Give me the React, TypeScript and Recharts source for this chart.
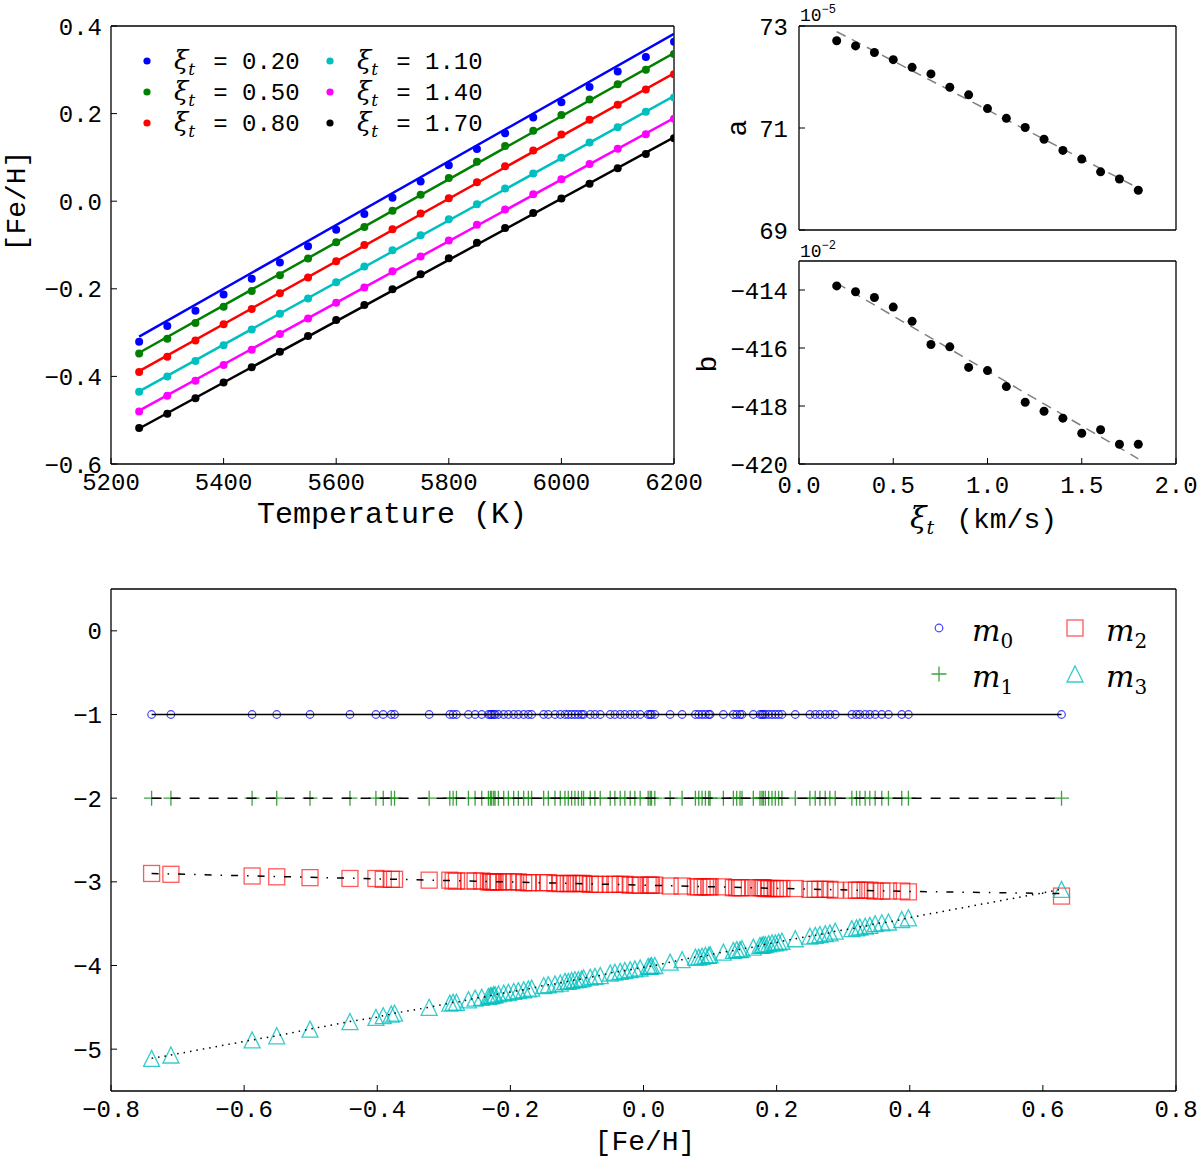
import React from 'react';
import { ScatterChart, Scatter, XAxis, YAxis } from 'recharts';

const MONO = '"Liberation Mono", "DejaVu Sans Mono", monospace';
const SERIF = '"DejaVu Serif", "Liberation Serif", serif';

// ---------- top left: [Fe/H] against Teff for six microturbulences
const TEMPS = [5250, 5300, 5350, 5400, 5450, 5500, 5550, 5600, 5650, 5700, 5750, 5800, 5850, 5900, 5950, 6000, 6050, 6100, 6150, 6200];
const FEH_XI020 = [-0.321, -0.285, -0.25, -0.213, -0.177, -0.14, -0.103, -0.065, -0.029, 0.008, 0.045, 0.082, 0.119, 0.155, 0.191, 0.226, 0.261, 0.296, 0.329, 0.364];
const FEH_XI050 = [-0.348, -0.314, -0.278, -0.241, -0.205, -0.169, -0.131, -0.094, -0.059, -0.022, 0.015, 0.053, 0.09, 0.126, 0.161, 0.197, 0.232, 0.267, 0.3, 0.336];
const FEH_XI080 = [-0.39, -0.355, -0.318, -0.281, -0.246, -0.21, -0.174, -0.137, -0.1, -0.064, -0.028, 0.007, 0.043, 0.08, 0.116, 0.152, 0.186, 0.22, 0.255, 0.29];
const FEH_XI110 = [-0.435, -0.4, -0.365, -0.329, -0.293, -0.257, -0.222, -0.185, -0.149, -0.112, -0.078, -0.041, -0.007, 0.029, 0.063, 0.099, 0.134, 0.169, 0.204, 0.237];
const FEH_XI140 = [-0.48, -0.444, -0.41, -0.374, -0.339, -0.303, -0.268, -0.232, -0.197, -0.16, -0.126, -0.09, -0.054, -0.019, 0.016, 0.05, 0.085, 0.12, 0.153, 0.188];
const FEH_XI170 = [-0.518, -0.485, -0.45, -0.414, -0.379, -0.344, -0.308, -0.271, -0.237, -0.201, -0.167, -0.13, -0.095, -0.061, -0.027, 0.006, 0.04, 0.075, 0.108, 0.144];
// straight fits, value at first and last temperature
const FIT_TEMPS = [5250, 6200];
const FIT_XI020 = [-0.309, 0.382];
const FIT_XI050 = [-0.346, 0.338];
const FIT_XI080 = [-0.388, 0.292];
const FIT_XI110 = [-0.434, 0.24];
const FIT_XI140 = [-0.478, 0.19];
const FIT_XI170 = [-0.519, 0.146];
const TEMP_TICKS = [5200, 5400, 5600, 5800, 6000, 6200];
const FEH_TICKS = [-0.6, -0.4, -0.2, 0, 0.2, 0.4];

// ---------- top right: fit coefficients against xi_t
const XI = [0.2, 0.3, 0.4, 0.5, 0.6, 0.7, 0.8, 0.9, 1.0, 1.1, 1.2, 1.3, 1.4, 1.5, 1.6, 1.7, 1.8];
const A_COEF = [72.71, 72.61, 72.48, 72.34, 72.19, 72.06, 71.8, 71.65, 71.38, 71.19, 71.01, 70.78, 70.56, 70.39, 70.14, 70.0, 69.78]; // x 1e-5
const B_COEF = [-413.86, -414.06, -414.26, -414.59, -415.08, -415.88, -415.96, -416.67, -416.78, -417.33, -417.87, -418.18, -418.42, -418.94, -418.82, -419.32, -419.32]; // x 1e-2
const XI_FIT = [0.2, 1.8];
const A_FIT = [72.89, 69.82];
const B_FIT = [-413.76, -419.82];
const XI_TICKS = [0, 0.5, 1, 1.5, 2];
const A_TICKS = [69, 71, 73];
const B_TICKS = [-420, -418, -416, -414];

// ---------- bottom: model terms against [Fe/H] of the sample
const STAR_FEH = [
  -0.739, -0.71, -0.588, -0.551, -0.501, -0.441, -0.402, -0.391, -0.379, -0.374, -0.322, -0.291, -0.286, -0.281,
  -0.263, -0.253, -0.243, -0.233, -0.23, -0.228, -0.225, -0.223, -0.218, -0.21, -0.203, -0.195, -0.188, -0.18,
  -0.173, -0.168, -0.15, -0.143, -0.133, -0.125, -0.118, -0.113, -0.108, -0.103, -0.098, -0.093, -0.09, -0.08,
  -0.073, -0.065, -0.05, -0.043, -0.035, -0.028, -0.02, -0.013, -0.005, 0.007, 0.01, 0.012, 0.017, 0.04, 0.058,
  0.078, 0.083, 0.088, 0.093, 0.098, 0.1, 0.12, 0.135, 0.14, 0.145, 0.148, 0.165, 0.175, 0.178, 0.18, 0.183,
  0.188, 0.193, 0.198, 0.203, 0.208, 0.228, 0.25, 0.258, 0.265, 0.273, 0.28, 0.288, 0.313, 0.32, 0.325, 0.333,
  0.34, 0.348, 0.358, 0.368, 0.388, 0.398, 0.628,
];
const M0_LEVEL = -1;
const M1_LEVEL = -2;
const M2_VALUES = [
  -2.9, -2.91, -2.93, -2.94, -2.95, -2.96, -2.96, -2.97, -2.97, -2.97, -2.98, -2.98, -2.99, -2.99,
  -2.99, -2.99, -2.99, -3.0, -3.0, -3.0, -3.0, -3.0, -3.0, -3.0, -3.0, -3.0, -3.0, -3.01,
  -3.01, -3.01, -3.01, -3.01, -3.02, -3.02, -3.02, -3.02, -3.02, -3.02, -3.02, -3.02, -3.02, -3.03,
  -3.03, -3.03, -3.03, -3.03, -3.03, -3.03, -3.04, -3.04, -3.04, -3.04, -3.04, -3.04, -3.04, -3.05, -3.05,
  -3.06, -3.06, -3.06, -3.06, -3.06, -3.06, -3.06, -3.07, -3.07, -3.07, -3.07, -3.07, -3.07, -3.07, -3.07, -3.08,
  -3.08, -3.08, -3.08, -3.08, -3.08, -3.08, -3.09, -3.09, -3.09, -3.09, -3.09, -3.1, -3.1, -3.1, -3.1, -3.1,
  -3.1, -3.11, -3.11, -3.11, -3.11, -3.12, -3.17,
];
const M3_VALUES = [
  -5.11, -5.07, -4.89, -4.84, -4.76, -4.67, -4.62, -4.6, -4.58, -4.57, -4.5, -4.45, -4.44, -4.44,
  -4.41, -4.39, -4.38, -4.37, -4.36, -4.36, -4.35, -4.35, -4.34, -4.33, -4.32, -4.31, -4.3, -4.29,
  -4.28, -4.27, -4.24, -4.23, -4.22, -4.21, -4.19, -4.19, -4.18, -4.17, -4.17, -4.16, -4.15, -4.14,
  -4.13, -4.12, -4.09, -4.08, -4.07, -4.06, -4.05, -4.04, -4.03, -4.01, -4.01, -4.0, -4.0, -3.96, -3.93,
  -3.9, -3.9, -3.89, -3.88, -3.88, -3.87, -3.84, -3.82, -3.81, -3.81, -3.8, -3.78, -3.76, -3.76, -3.75, -3.75,
  -3.74, -3.73, -3.73, -3.72, -3.71, -3.68, -3.65, -3.64, -3.63, -3.62, -3.61, -3.59, -3.56, -3.55, -3.54, -3.53,
  -3.52, -3.5, -3.49, -3.48, -3.45, -3.43, -3.09,
];
const LEVEL_SPAN = [-0.739, 0.628];
const M2_LINE_FEH = [-0.739, -0.4, 0, 0.398, 0.628];
const M2_LINE = [-2.9, -2.965, -3.04, -3.115, -3.14];
const BOT_X_TICKS = [-0.8, -0.6, -0.4, -0.2, 0, 0.2, 0.4, 0.6, 0.8];
const BOT_Y_TICKS = [-5, -4, -3, -2, -1, 0];

const XI_SERIES = [
  { label: '0.20', color: '#0000ff', values: FEH_XI020, fit: FIT_XI020 },
  { label: '0.50', color: '#008000', values: FEH_XI050, fit: FIT_XI050 },
  { label: '0.80', color: '#ff0000', values: FEH_XI080, fit: FIT_XI080 },
  { label: '1.10', color: '#00bfbf', values: FEH_XI110, fit: FIT_XI110 },
  { label: '1.40', color: '#ff00ff', values: FEH_XI140, fit: FIT_XI140 },
  { label: '1.70', color: '#000000', values: FEH_XI170, fit: FIT_XI170 },
];

const pts = (xs: number[], ys: number[]) => xs.map((x, i) => ({ x, y: ys[i] }));
const flat = (xs: number[], level: number) => xs.map((x) => ({ x, y: level }));

const minus = (s: string) => s.replace('-', '\u2212');
const fmt1 = (v: number) => minus(v.toFixed(1));
const fmt0 = (v: number) => minus(String(Math.round(v)));

// marker shapes
const noMark = () => <g />;
const dot = (r: number, fill: string) => (p: any) => <circle cx={p.cx} cy={p.cy} r={r} fill={fill} />;
const ring = (p: any) => (
  <circle cx={p.cx} cy={p.cy} r={3.8} fill="none" stroke="#0000ff" strokeOpacity={0.75} strokeWidth={1.2} />
);
const plus = (p: any) => (
  <path d={`M${p.cx - 7.5},${p.cy}h15M${p.cx},${p.cy - 7.5}v15`} fill="none" stroke="#008000" strokeOpacity={0.75} strokeWidth={1.3} />
);
const square = (p: any) => (
  <rect x={p.cx - 8} y={p.cy - 8} width={16} height={16} fill="none" stroke="#ff0000" strokeOpacity={0.65} strokeWidth={1.3} />
);
const triangle = (p: any) => (
  <path d={`M${p.cx},${p.cy - 8}L${p.cx + 8},${p.cy + 8}L${p.cx - 8},${p.cy + 8}Z`} fill="none" stroke="#00bfbf" strokeOpacity={0.8} strokeWidth={1.3} />
);

const AXIS_LINE = { stroke: '#000', strokeWidth: 1.3 };
const TICK_LINE = { stroke: '#000', strokeWidth: 1 };
const TICK_FONT = { fontFamily: MONO, fontSize: 24, fill: '#000' };

// box with inward ticks on all four sides, like matplotlib
function frameAxes(o: any) {
  return [
    <XAxis key="xb" xAxisId={0} type="number" dataKey="x" domain={o.xDomain} ticks={o.xTicks} allowDataOverflow interval={0}
      height={o.xHeight} tickSize={-6} tickMargin={o.xMargin || 0} tick={o.xFmt ? TICK_FONT : false} tickFormatter={o.xFmt}
      axisLine={AXIS_LINE} tickLine={TICK_LINE} />,
    <XAxis key="xt" xAxisId="top" orientation="top" type="number" dataKey="x" domain={o.xDomain} ticks={o.xTicks} allowDataOverflow
      interval={0} height={1} tickSize={-6} tick={false} axisLine={AXIS_LINE} tickLine={TICK_LINE} />,
    <YAxis key="yl" yAxisId={0} type="number" dataKey="y" domain={o.yDomain} ticks={o.yTicks} allowDataOverflow interval={0}
      width={o.yWidth} tickSize={-6} tickMargin={o.yMargin} tick={TICK_FONT} tickFormatter={o.yFmt}
      axisLine={AXIS_LINE} tickLine={TICK_LINE} />,
    <YAxis key="yr" yAxisId="right" orientation="right" type="number" dataKey="y" domain={o.yDomain} ticks={o.yTicks} allowDataOverflow
      interval={0} width={1} tickSize={-6} tick={false} axisLine={AXIS_LINE} tickLine={TICK_LINE} />,
  ];
}

const Overlay = ({ w, h, children }: { w: number; h: number; children: React.ReactNode }) => (
  <svg width={w} height={h} style={{ position: 'absolute', left: 0, top: 0, pointerEvents: 'none', overflow: 'visible' }}>
    {children}
  </svg>
);

const XiText = ({ x, y, size, sub, rest, gap }: any) => (
  <text x={x} y={y} fill="#000">
    <tspan fontFamily={SERIF} fontStyle="italic" fontSize={size}>ξ</tspan>
    <tspan fontFamily={SERIF} fontStyle="italic" fontSize={sub} dy={6}>t</tspan>
    <tspan fontFamily={MONO} fontSize={size - 2} dy={-6} dx={gap}>{rest}</tspan>
  </text>
);

const MText = ({ x, y, idx }: any) => (
  <text x={x} y={y} fill="#000" fontFamily={SERIF}>
    <tspan fontStyle="italic" fontSize={30}>m</tspan>
    <tspan fontSize={20} dy={7}>{idx}</tspan>
  </text>
);

const TempPanel = () => (
  <div style={{ position: 'absolute', left: 0, top: 0, width: 720, height: 540 }}>
    <ScatterChart width={720} height={540} margin={{ top: 25, right: 45, bottom: 26, left: 31 }}>
      {frameAxes({
        xDomain: [5200, 6200], xTicks: TEMP_TICKS, xFmt: fmt0, xHeight: 50, xMargin: 15,
        yDomain: [-0.6, 0.4], yTicks: FEH_TICKS, yFmt: fmt1, yWidth: 80, yMargin: 15,
      })}
      {XI_SERIES.map((s) => (
        <Scatter key={'fit' + s.label} data={pts(FIT_TEMPS, s.fit)} shape={noMark}
          line={{ stroke: s.color, strokeWidth: 2.5 }} isAnimationActive={false} />
      ))}
      {XI_SERIES.map((s) => (
        <Scatter key={'pts' + s.label} data={pts(TEMPS, s.values)} shape={dot(4, s.color)} isAnimationActive={false} />
      ))}
    </ScatterChart>
    <Overlay w={720} h={540}>
      {XI_SERIES.map((s, i) => {
        const cx = i < 3 ? 147 : 330;
        const cy = 61 + (i % 3) * 31;
        return (
          <g key={s.label}>
            <circle cx={cx} cy={cy} r={3.6} fill={s.color} />
            <XiText x={cx + 27} y={cy + 8} size={26} sub={17} gap={18} rest={'= ' + s.label} />
          </g>
        );
      })}
      <text x={392} y={523} textAnchor="middle" fontFamily={MONO} fontSize={30} fill="#000">Temperature (K)</text>
      <text x={17} y={201} textAnchor="middle" dominantBaseline="central" transform="rotate(-90 17 201)"
        fontFamily={MONO} fontSize={28} fill="#000">[Fe/H]</text>
    </Overlay>
  </div>
);

const CoefA = () => (
  <div style={{ position: 'absolute', left: 700, top: 0, width: 500, height: 250 }}>
    <ScatterChart width={500} height={250} margin={{ top: 25, right: 23, bottom: 19, left: 39 }}>
      {frameAxes({
        xDomain: [0, 2], xTicks: XI_TICKS, xHeight: 1,
        yDomain: [69, 73], yTicks: A_TICKS, yFmt: fmt0, yWidth: 60, yMargin: 17,
      })}
      <Scatter data={pts(XI_FIT, A_FIT)} shape={noMark} line={{ stroke: '#808080', strokeWidth: 1.5, strokeDasharray: '10 7' }} isAnimationActive={false} />
      <Scatter data={pts(XI, A_COEF)} shape={dot(4.5, '#000')} isAnimationActive={false} />
    </ScatterChart>
    <Overlay w={500} h={250}>
      <text x={38} y={128} textAnchor="middle" dominantBaseline="central" transform="rotate(-90 38 128)"
        fontFamily={MONO} fontSize={28} fill="#000">a</text>
      <text x={100} y={21} fontFamily={MONO} fontSize={18} fill="#000">
        10<tspan fontSize={12} dy={-8}>{'\u22125'}</tspan>
      </text>
    </Overlay>
  </div>
);

const CoefB = () => (
  <div style={{ position: 'absolute', left: 700, top: 240, width: 500, height: 318 }}>
    <ScatterChart width={500} height={318} margin={{ top: 20, right: 23, bottom: 44, left: 39 }}>
      {frameAxes({
        xDomain: [0, 2], xTicks: XI_TICKS, xFmt: fmt1, xHeight: 50, xMargin: 18,
        yDomain: [-420, -413], yTicks: B_TICKS, yFmt: fmt0, yWidth: 60, yMargin: 17,
      })}
      <Scatter data={pts(XI_FIT, B_FIT)} shape={noMark} line={{ stroke: '#808080', strokeWidth: 1.5, strokeDasharray: '10 7' }} isAnimationActive={false} />
      <Scatter data={pts(XI, B_COEF)} shape={dot(4.5, '#000')} isAnimationActive={false} />
    </ScatterChart>
    <Overlay w={500} h={318}>
      <text x={8} y={124} textAnchor="middle" dominantBaseline="central" transform="rotate(-90 8 124)"
        fontFamily={MONO} fontSize={28} fill="#000">b</text>
      <text x={100} y={17} fontFamily={MONO} fontSize={18} fill="#000">
        10<tspan fontSize={12} dy={-8}>{'\u22122'}</tspan>
      </text>
      <XiText x={210} y={288} size={30} sub={19} gap={22} rest="(km/s)" />
    </Overlay>
  </div>
);

const TermsPanel = () => (
  <div style={{ position: 'absolute', left: 0, top: 558, width: 1200, height: 600 }}>
    <ScatterChart width={1200} height={600} margin={{ top: 30, right: 23, bottom: 27, left: 31 }}>
      {frameAxes({
        xDomain: [-0.8, 0.8], xTicks: BOT_X_TICKS, xFmt: fmt1, xHeight: 40, xMargin: 15,
        yDomain: [-5.5, 0.5], yTicks: BOT_Y_TICKS, yFmt: fmt0, yWidth: 80, yMargin: 15,
      })}
      <Scatter data={flat(STAR_FEH, M0_LEVEL)} shape={ring} isAnimationActive={false} />
      <Scatter data={flat(STAR_FEH, M1_LEVEL)} shape={plus} isAnimationActive={false} />
      <Scatter data={pts(STAR_FEH, M2_VALUES)} shape={square} isAnimationActive={false} />
      <Scatter data={pts(STAR_FEH, M3_VALUES)} shape={triangle} isAnimationActive={false} />
      <Scatter data={flat(LEVEL_SPAN, M0_LEVEL)} shape={noMark} line={{ stroke: '#000', strokeWidth: 1.5 }} isAnimationActive={false} />
      <Scatter data={flat(LEVEL_SPAN, M1_LEVEL)} shape={noMark} line={{ stroke: '#000', strokeWidth: 1.5, strokeDasharray: '10 9' }} isAnimationActive={false} />
      <Scatter data={pts(M2_LINE_FEH, M2_LINE)} shape={noMark} line={{ stroke: '#000', strokeWidth: 1.5, strokeDasharray: '7 9 1.5 9' }} isAnimationActive={false} />
      <Scatter data={pts(STAR_FEH, M3_VALUES)} shape={noMark} line={{ stroke: '#000', strokeWidth: 1.5, strokeDasharray: '1.5 5' }} isAnimationActive={false} />
    </ScatterChart>
    <Overlay w={1200} h={600}>
      {ring({ cx: 939, cy: 70 })}
      <MText x={972} y={83} idx="0" />
      {square({ cx: 1075, cy: 70 })}
      <MText x={1106} y={83} idx="2" />
      {plus({ cx: 939, cy: 116 })}
      <MText x={972} y={129} idx="1" />
      {triangle({ cx: 1075, cy: 116 })}
      <MText x={1106} y={129} idx="3" />
      <text x={645} y={592} textAnchor="middle" fontFamily={MONO} fontSize={28} fill="#000">[Fe/H]</text>
    </Overlay>
  </div>
);

export default function App() {
  return (
    <div style={{ position: 'absolute', left: 0, top: 0, width: 1200, height: 1158, background: '#fff', overflow: 'hidden' }}>
      <TempPanel />
      <CoefA />
      <CoefB />
      <TermsPanel />
    </div>
  );
}
